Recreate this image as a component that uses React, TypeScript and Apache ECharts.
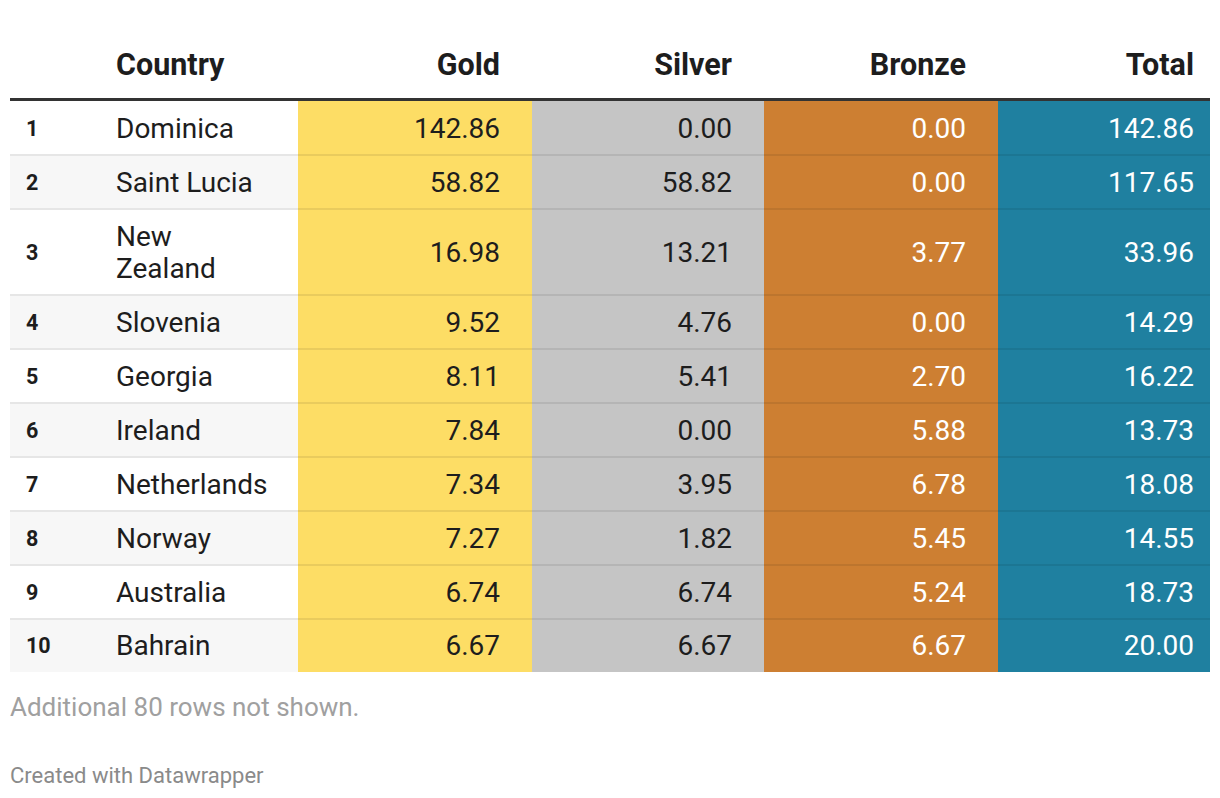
import React, { useEffect, useRef } from "react";
import * as echarts from "echarts";

const ranks = [1, 2, 3, 4, 5, 6, 7, 8, 9, 10];
const countries = [
  "Dominica",
  "Saint Lucia",
  "New\nZealand",
  "Slovenia",
  "Georgia",
  "Ireland",
  "Netherlands",
  "Norway",
  "Australia",
  "Bahrain",
];
const gold = [142.86, 58.82, 16.98, 9.52, 8.11, 7.84, 7.34, 7.27, 6.74, 6.67];
const silver = [0.0, 58.82, 13.21, 4.76, 5.41, 0.0, 3.95, 1.82, 6.74, 6.67];
const bronze = [0.0, 0.0, 3.77, 0.0, 2.7, 5.88, 6.78, 5.45, 5.24, 6.67];
const total = [142.86, 117.65, 33.96, 14.29, 16.22, 13.73, 18.08, 14.55, 18.73, 20.0];
const headers = ["Country", "Gold", "Silver", "Bronze", "Total"];
const footnote = "Additional 80 rows not shown.";
const credit = "Created with Datawrapper";

// layout (table units = pixels inside grid)
const TABLE_W = 1200;
const colEdges = [0, 288, 522, 754, 988, 1200];
const rowHeights = [54, 54, 86, 54, 54, 54, 54, 54, 54, 53];
const rowTops: number[] = [];
{
  let acc = 0;
  for (const h of rowHeights) {
    rowTops.push(acc);
    acc += h;
  }
}
const TABLE_H = rowHeights.reduce((a, b) => a + b, 0);
const GRID_LEFT = 10;
const GRID_TOP = 101;
const colFill = ["#FDDD65", "#C5C5C5", "#CD7F32", "#1F80A0"];
const colText = ["#1d1d1d", "#1d1d1d", "#ffffff", "#ffffff"];
const rightPad = [32, 32, 32, 16];
const FONT = "Roboto, 'Noto Sans', sans-serif";

export default function App() {
  const ref = useRef<HTMLDivElement>(null);
  useEffect(() => {
    document.body.style.margin = "0";
    if (!ref.current) return;
    const chart = echarts.init(ref.current, undefined, { renderer: "svg" });
    const valueCols = [gold, silver, bronze, total];

    const renderItem = (params: any, api: any) => {
      const idx = api.value(0) as number;
      const y0 = rowTops[idx];
      const y1 = y0 + rowHeights[idx];
      const p0 = api.coord([0, y0]);
      const p1 = api.coord([TABLE_W, y1]);
      const top = p0[1];
      const bottom = p1[1];
      const h = bottom - top;
      const midY = (top + bottom) / 2;
      const children: any[] = [];
      const xAt = (v: number) => api.coord([v, y0])[0];
      children.push({
        type: "rect",
        shape: { x: xAt(colEdges[0]), y: top, width: xAt(colEdges[1]) - xAt(colEdges[0]), height: h },
        style: { fill: idx % 2 === 1 ? "#f7f7f7" : "#ffffff" },
      });
      for (let c = 0; c < 4; c++) {
        const xa = xAt(colEdges[c + 1]);
        const xb = xAt(colEdges[c + 2]);
        children.push({
          type: "rect",
          shape: { x: xa, y: top, width: xb - xa, height: h },
          style: { fill: colFill[c] },
        });
      }
      if (idx > 0) {
        children.push({
          type: "rect",
          shape: { x: xAt(colEdges[0]), y: top - 1, width: xAt(colEdges[1]) - xAt(colEdges[0]), height: 2 },
          style: { fill: "#e6e6e6" },
          z2: 5,
        });
        children.push({
          type: "rect",
          shape: { x: xAt(colEdges[1]), y: top - 1, width: xAt(colEdges[5]) - xAt(colEdges[1]), height: 2 },
          style: { fill: "rgba(0,0,0,0.08)" },
          z2: 5,
        });
      }
      children.push({
        type: "text",
        x: xAt(16),
        y: midY,
        z2: 10,
        style: {
          text: String(ranks[idx]),
          fill: "#1d1d1d",
          fontFamily: FONT,
          fontWeight: "bold",
          fontSize: 21.5,
          align: "left",
          verticalAlign: "middle",
        },
      });
      children.push({
        type: "text",
        x: xAt(106),
        y: midY,
        z2: 10,
        style: {
          text: countries[idx],
          fill: "#1d1d1d",
          fontFamily: FONT,
          fontSize: 28,
          lineHeight: 32,
          align: "left",
          verticalAlign: "middle",
        },
      });
      for (let c = 0; c < 4; c++) {
        children.push({
          type: "text",
          x: xAt(colEdges[c + 2] - rightPad[c]),
          y: midY,
          z2: 10,
          style: {
            text: valueCols[c][idx].toFixed(2),
            fill: colText[c],
            fontFamily: FONT,
            fontSize: 28,
            align: "right",
            verticalAlign: "middle",
          },
        });
      }
      return { type: "group", children };
    };

    const headerX = [GRID_LEFT + 106, ...colEdges.slice(2).map((e, i) => GRID_LEFT + e - rightPad[i])];
    const graphics: any[] = headers.map((t, i) => ({
      type: "text",
      x: headerX[i],
      y: 64,
      style: {
        text: t,
        fill: "#1d1d1d",
        fontFamily: FONT,
        fontWeight: "bold",
        fontSize: 30.5,
        align: i === 0 ? "left" : "right",
        verticalAlign: "middle",
      },
    }));
    graphics.push({
      type: "rect",
      shape: { x: GRID_LEFT, y: GRID_TOP - 3, width: TABLE_W, height: 3 },
      style: { fill: "#333333" },
    });
    graphics.push({
      type: "text",
      x: GRID_LEFT,
      y: 707,
      style: {
        text: footnote,
        fill: "#a0a0a0",
        fontFamily: FONT,
        fontSize: 26,
        align: "left",
        verticalAlign: "middle",
      },
    });
    graphics.push({
      type: "text",
      x: GRID_LEFT,
      y: 775,
      style: {
        text: credit,
        fill: "#8a8a8a",
        fontFamily: FONT,
        fontSize: 22,
        align: "left",
        verticalAlign: "middle",
      },
    });

    chart.setOption({
      animation: false,
      backgroundColor: "#ffffff",
      grid: { left: GRID_LEFT, top: GRID_TOP, width: TABLE_W, height: TABLE_H },
      xAxis: { type: "value", min: 0, max: TABLE_W, show: false },
      yAxis: { type: "value", min: 0, max: TABLE_H, inverse: true, show: false },
      tooltip: { show: false },
      graphic: graphics,
      series: [
        {
          type: "custom",
          renderItem,
          data: ranks.map((_, i) => [i]),
          encode: { x: [], y: [] },
          clip: false,
          silent: true,
        },
      ],
    });
    return () => chart.dispose();
  }, []);
  return <div ref={ref} style={{ width: 1220, height: 798 }} />;
}
